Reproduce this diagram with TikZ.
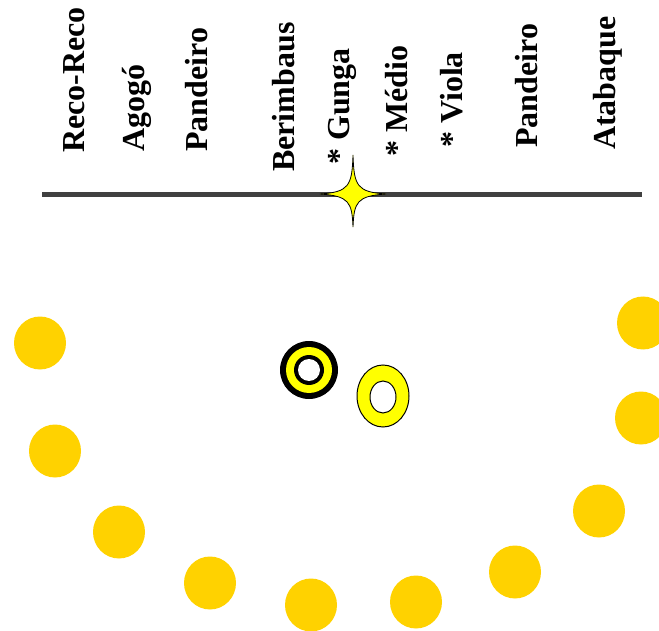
\documentclass[tikz,border=0pt]{standalone}
\usepackage{fontspec}
\setmainfont{Liberation Serif}
\definecolor{gold}{HTML}{FFD200}
\definecolor{ringyellow}{HTML}{FFFF00}
\definecolor{linegray}{HTML}{404040}
\begin{document}
\begin{tikzpicture}[x=1pt,y=-1pt,
  instr/.style={rotate=90,anchor=west,inner sep=0pt,font=\fontsize{32}{36}\selectfont\bfseries}]
\useasboundingbox (0,0) rectangle (659,631);
% labels
\node[instr] (l1) at (74,153) {Reco-Reco};
\node[instr] (l2) at (137,152) {Agogó};
\node[instr] (l3) at (197,152) {Pandeiro};
\node[instr] (l4) at (284,172) {Berimbaus};
\node[instr] (l5) at (342,165) {* Gunga};
\node[instr] (l6) at (397,157) {* Médio};
\node[instr] (l7) at (452,148) {* Viola};
\node[instr] (l8) at (527,148) {Pandeiro};
\node[instr] (l9) at (608,150) {Atabaque};
% line
\coordinate (la) at (42,195);
\coordinate (lb) at (642,195);
\draw[linegray,line width=5pt] (la) -- (lb);
% star
\draw[fill=ringyellow,draw=black,line width=0.8pt]
  (353,155) .. controls (354,186) and (357,192) .. (386,194)
  .. controls (357,196) and (354,202) .. (353,227)
  .. controls (352,202) and (349,196) .. (320,194)
  .. controls (349,192) and (352,186) .. cycle;
% dots
\foreach \x/\y in {40/343,55/451,119/532,210/583,311/605,416/602,515/572,599/511,641/418,643/323}
  \fill[gold] (\x,\y) ellipse [x radius=26, y radius=26.5];
% ring 1
\fill[black] (309,370) circle (29);
\fill[ringyellow] (309,370) circle (23);
\fill[black] (309,370) circle (15);
\fill[white] (309,370) circle (11);
% ring 2
\draw[fill=ringyellow,draw=black,line width=1pt,even odd rule]
  (383,396) ellipse [x radius=26, y radius=31]
  (383,397) ellipse [x radius=13, y radius=16];
\end{tikzpicture}
\end{document}
